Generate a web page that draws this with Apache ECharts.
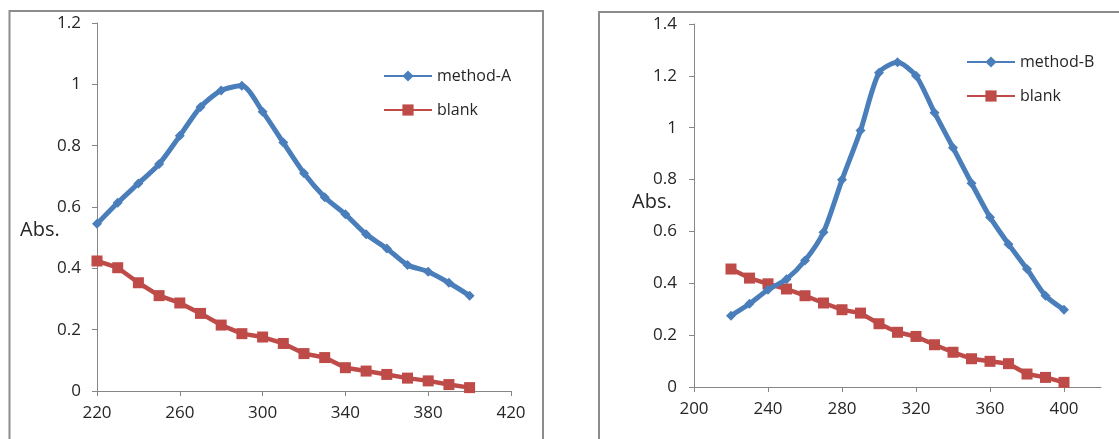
<!DOCTYPE html>
<html>
<head>
<meta charset="utf-8">
<script src="https://cdn.jsdelivr.net/npm/echarts@6/dist/echarts.min.js"></script>
<style>
html,body{margin:0;padding:0;background:#fff;}
#c{width:1119px;height:439px;}
</style>
</head>
<body>
<div id="c"></div>
<script>
// ---- data ----
var wavelengths = [220,230,240,250,260,270,280,290,300,310,320,330,340,350,360,370,380,390,400];
var methodA = [0.545,0.614,0.677,0.740,0.832,0.926,0.980,0.995,0.911,0.810,0.710,0.632,0.576,0.511,0.465,0.411,0.389,0.353,0.311];
var blankA  = [0.424,0.402,0.353,0.311,0.287,0.253,0.215,0.187,0.176,0.155,0.122,0.109,0.076,0.065,0.054,0.042,0.033,0.021,0.011];
var methodB = [0.275,0.321,0.375,0.416,0.488,0.597,0.799,0.989,1.212,1.252,1.200,1.058,0.923,0.786,0.655,0.551,0.455,0.352,0.298];
var blankB  = [0.455,0.420,0.398,0.378,0.352,0.324,0.298,0.285,0.244,0.211,0.195,0.163,0.134,0.109,0.099,0.090,0.050,0.037,0.018];

function pairs(xs, ys){ return xs.map(function(x,i){ return [x, ys[i]]; }); }

var FONT = '"Open Sans", "Noto Sans", sans-serif';
var AXIS_COLOR = '#868686';
var TEXT_COLOR = '#262626';
var BLUE = '#4A7EBB';
var RED = '#BE4B48';

var axisLineStyle = {show:true, lineStyle:{color:AXIS_COLOR, width:1}};
var tickStyle = {show:true, length:5, lineStyle:{color:AXIS_COLOR, width:1}};
var labelStyle = {color:TEXT_COLOR, fontSize:17, fontFamily:FONT};
var legendText = {color:TEXT_COLOR, fontSize:16, fontFamily:FONT};

var chart = echarts.init(document.getElementById('c'), null, {renderer:'canvas'});

chart.setOption({
  animation:false,
  backgroundColor:'#fff',
  graphic:[
    {type:'rect', shape:{x:9.5, y:11, width:533.5, height:440}, style:{fill:'none', stroke:'#8c8c8c', lineWidth:2}, z:-1},
    {type:'rect', shape:{x:599, y:12, width:540, height:440}, style:{fill:'none', stroke:'#8c8c8c', lineWidth:2}, z:-1},
    {type:'text', left:20, top:220, style:{text:'Abs.', fontSize:20, fontFamily:FONT, fill:TEXT_COLOR}},
    {type:'text', left:632, top:192, style:{text:'Abs.', fontSize:20, fontFamily:FONT, fill:TEXT_COLOR}}
  ],
  legend:[
    {orient:'vertical', left:378, top:63, itemWidth:48, itemHeight:14, itemGap:18,
     textStyle:legendText, data:['method-A','blank']},
    {orient:'vertical', left:961, top:49, itemWidth:48, itemHeight:14, itemGap:18,
     textStyle:legendText, data:['method-B','blank']}
  ],
  grid:[
    {left:97, right:608, top:23, bottom:48},
    {left:694, right:18, top:24, bottom:52},
    {left:694, width:370, top:24, bottom:52}
  ],
  xAxis:[
    {type:'value', gridIndex:0, min:220, max:420, interval:40,
     axisLine:axisLineStyle, axisTick:tickStyle, splitLine:{show:false},
     axisLabel:Object.assign({margin:14}, labelStyle)},
    {type:'value', gridIndex:1, min:200, max:420,
     axisLine:axisLineStyle, axisTick:{show:false}, axisLabel:{show:false}, splitLine:{show:false}},
    {type:'value', gridIndex:2, min:200, max:400, interval:40,
     axisLine:{show:false}, axisTick:tickStyle, splitLine:{show:false},
     axisLabel:Object.assign({margin:14}, labelStyle)}
  ],
  yAxis:[
    {type:'value', gridIndex:0, min:0, max:1.2, interval:0.2,
     axisLine:axisLineStyle, axisTick:tickStyle, splitLine:{show:false},
     axisLabel:Object.assign({margin:16}, labelStyle)},
    {type:'value', gridIndex:1, min:0, max:1.4, interval:0.2,
     axisLine:axisLineStyle, axisTick:tickStyle, splitLine:{show:false},
     axisLabel:Object.assign({margin:17}, labelStyle)},
    {type:'value', gridIndex:2, min:0, max:1.4, interval:0.2, show:false}
  ],
  series:[
    {name:'method-A', type:'line', xAxisIndex:0, yAxisIndex:0, data:pairs(wavelengths, methodA),
     smooth:0.25, symbol:'diamond', symbolSize:10, lineStyle:{color:BLUE, width:5}, itemStyle:{color:BLUE}, z:3},
    {name:'blank', type:'line', xAxisIndex:0, yAxisIndex:0, data:pairs(wavelengths, blankA),
     symbol:'rect', symbolSize:11, lineStyle:{color:RED, width:4.5}, itemStyle:{color:RED}, z:2},
    {name:'method-B', type:'line', xAxisIndex:2, yAxisIndex:2, data:pairs(wavelengths, methodB),
     smooth:0.25, symbol:'diamond', symbolSize:10, lineStyle:{color:BLUE, width:5}, itemStyle:{color:BLUE}, z:3},
    {name:'blank', type:'line', xAxisIndex:2, yAxisIndex:2, data:pairs(wavelengths, blankB),
     symbol:'rect', symbolSize:11, lineStyle:{color:RED, width:4.5}, itemStyle:{color:RED}, z:2}
  ]
});
</script>
</body>
</html>
